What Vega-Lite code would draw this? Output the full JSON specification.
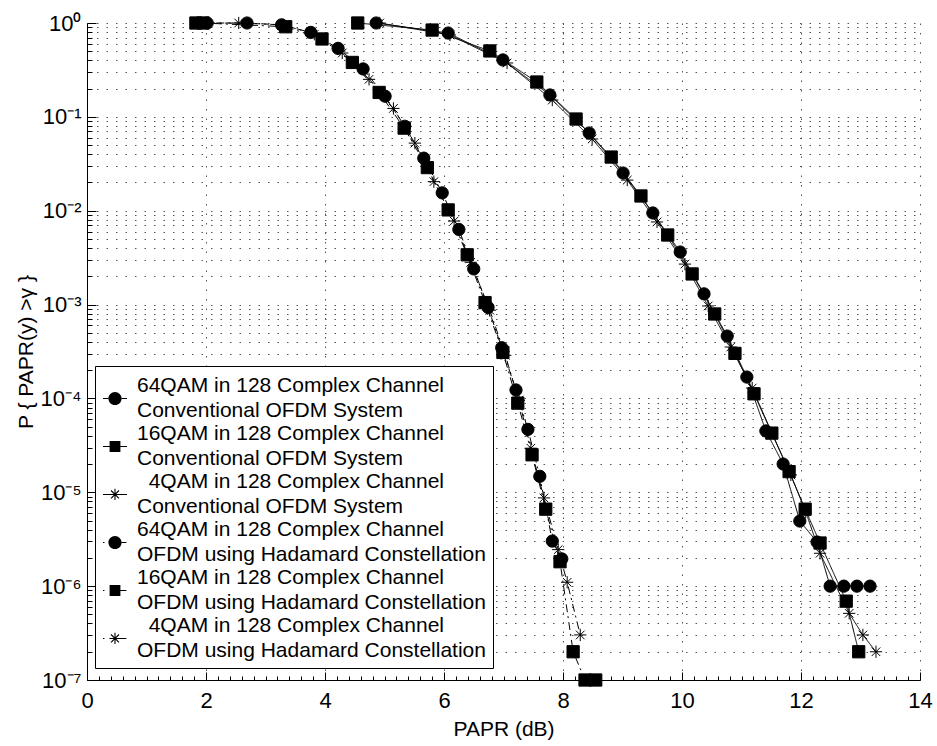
{
  "$schema": "https://vega.github.io/schema/vega-lite/v6.json",
  "width": 833,
  "height": 657,
  "autosize": "none",
  "padding": {"left": 87, "top": 23, "right": 17, "bottom": 66},
  "background": "white",
  "config": {
    "font": "Liberation Sans",
    "view": {"stroke": null},
    "style": {"guide-label": {"lineHeight": 25}},
    "axis": {
      "labelFont": "Liberation Sans", "titleFont": "Liberation Sans",
      "labelFontSize": 22, "titleFontSize": 21, "titleFontWeight": "normal",
      "labelColor": "black", "titleColor": "black",
      "domainColor": "black", "domainWidth": 1, "tickColor": "black", "tickWidth": 1,
      "gridColor": "#555", "gridWidth": 1, "gridDash": [1.5, 8],
      "labelOverlap": false, "labelFlush": false, "labelBound": false
    },
    "legend": {
      "labelFont": "Liberation Sans", "labelFontSize": 21, "labelColor": "black"
    }
  },
  "data": {"values": [
    {"mod":"64QAM","sys":"Conventional","x":4.86,"y":1},
    {"mod":"64QAM","sys":"Conventional","x":6.07,"y":0.782},
    {"mod":"64QAM","sys":"Conventional","x":6.99,"y":0.404},
    {"mod":"64QAM","sys":"Conventional","x":7.78,"y":0.171},
    {"mod":"64QAM","sys":"Conventional","x":8.44,"y":0.0673},
    {"mod":"64QAM","sys":"Conventional","x":9.01,"y":0.0252},
    {"mod":"64QAM","sys":"Conventional","x":9.51,"y":0.00946},
    {"mod":"64QAM","sys":"Conventional","x":9.97,"y":0.00363},
    {"mod":"64QAM","sys":"Conventional","x":10.37,"y":0.0013},
    {"mod":"64QAM","sys":"Conventional","x":10.76,"y":0.000462},
    {"mod":"64QAM","sys":"Conventional","x":11.09,"y":0.000169},
    {"mod":"64QAM","sys":"Conventional","x":11.41,"y":0.000045},
    {"mod":"64QAM","sys":"Conventional","x":11.70,"y":0.00002},
    {"mod":"64QAM","sys":"Conventional","x":11.98,"y":0.00000494},
    {"mod":"64QAM","sys":"Conventional","x":12.27,"y":0.00000295},
    {"mod":"64QAM","sys":"Conventional","x":12.49,"y":0.000001},
    {"mod":"64QAM","sys":"Conventional","x":12.72,"y":0.000001},
    {"mod":"64QAM","sys":"Conventional","x":12.94,"y":0.000001},
    {"mod":"64QAM","sys":"Conventional","x":13.16,"y":0.000001},
    {"mod":"16QAM","sys":"Conventional","x":4.55,"y":1},
    {"mod":"16QAM","sys":"Conventional","x":5.80,"y":0.841},
    {"mod":"16QAM","sys":"Conventional","x":6.77,"y":0.504},
    {"mod":"16QAM","sys":"Conventional","x":7.56,"y":0.235},
    {"mod":"16QAM","sys":"Conventional","x":8.22,"y":0.0948},
    {"mod":"16QAM","sys":"Conventional","x":8.81,"y":0.0373},
    {"mod":"16QAM","sys":"Conventional","x":9.31,"y":0.01436},
    {"mod":"16QAM","sys":"Conventional","x":9.76,"y":0.00551},
    {"mod":"16QAM","sys":"Conventional","x":10.17,"y":0.00212},
    {"mod":"16QAM","sys":"Conventional","x":10.55,"y":0.000794},
    {"mod":"16QAM","sys":"Conventional","x":10.89,"y":0.000302},
    {"mod":"16QAM","sys":"Conventional","x":11.21,"y":0.000112},
    {"mod":"16QAM","sys":"Conventional","x":11.51,"y":0.0000427},
    {"mod":"16QAM","sys":"Conventional","x":11.80,"y":0.0000166},
    {"mod":"16QAM","sys":"Conventional","x":12.07,"y":0.00000661},
    {"mod":"16QAM","sys":"Conventional","x":12.32,"y":0.00000288},
    {"mod":"16QAM","sys":"Conventional","x":12.76,"y":0.000000692},
    {"mod":"16QAM","sys":"Conventional","x":12.97,"y":0.0000002},
    {"mod":"4QAM","sys":"Conventional","x":4.92,"y":1},
    {"mod":"4QAM","sys":"Conventional","x":6.10,"y":0.745},
    {"mod":"4QAM","sys":"Conventional","x":7.06,"y":0.375},
    {"mod":"4QAM","sys":"Conventional","x":7.82,"y":0.151},
    {"mod":"4QAM","sys":"Conventional","x":8.49,"y":0.0581},
    {"mod":"4QAM","sys":"Conventional","x":9.08,"y":0.0212},
    {"mod":"4QAM","sys":"Conventional","x":9.58,"y":0.00759},
    {"mod":"4QAM","sys":"Conventional","x":10.05,"y":0.0027},
    {"mod":"4QAM","sys":"Conventional","x":10.44,"y":0.000966},
    {"mod":"4QAM","sys":"Conventional","x":10.82,"y":0.000353},
    {"mod":"4QAM","sys":"Conventional","x":11.18,"y":0.000129},
    {"mod":"4QAM","sys":"Conventional","x":11.51,"y":0.0000429},
    {"mod":"4QAM","sys":"Conventional","x":11.83,"y":0.0000153},
    {"mod":"4QAM","sys":"Conventional","x":12.08,"y":0.00000617},
    {"mod":"4QAM","sys":"Conventional","x":12.32,"y":0.00000224},
    {"mod":"4QAM","sys":"Conventional","x":12.81,"y":0.000000513},
    {"mod":"4QAM","sys":"Conventional","x":13.04,"y":0.000000302},
    {"mod":"4QAM","sys":"Conventional","x":13.26,"y":0.0000002},
    {"mod":"64QAM","sys":"Hadamard","x":2.02,"y":1},
    {"mod":"64QAM","sys":"Hadamard","x":2.69,"y":1},
    {"mod":"64QAM","sys":"Hadamard","x":3.27,"y":0.955},
    {"mod":"64QAM","sys":"Hadamard","x":3.76,"y":0.794},
    {"mod":"64QAM","sys":"Hadamard","x":4.22,"y":0.537},
    {"mod":"64QAM","sys":"Hadamard","x":4.64,"y":0.324},
    {"mod":"64QAM","sys":"Hadamard","x":5.01,"y":0.166},
    {"mod":"64QAM","sys":"Hadamard","x":5.34,"y":0.0794},
    {"mod":"64QAM","sys":"Hadamard","x":5.66,"y":0.0363},
    {"mod":"64QAM","sys":"Hadamard","x":5.97,"y":0.0155},
    {"mod":"64QAM","sys":"Hadamard","x":6.25,"y":0.00631},
    {"mod":"64QAM","sys":"Hadamard","x":6.50,"y":0.0024},
    {"mod":"64QAM","sys":"Hadamard","x":6.74,"y":0.000933},
    {"mod":"64QAM","sys":"Hadamard","x":6.97,"y":0.000347},
    {"mod":"64QAM","sys":"Hadamard","x":7.21,"y":0.000123},
    {"mod":"64QAM","sys":"Hadamard","x":7.41,"y":0.0000468},
    {"mod":"64QAM","sys":"Hadamard","x":7.61,"y":0.0000148},
    {"mod":"64QAM","sys":"Hadamard","x":7.82,"y":0.00000302},
    {"mod":"64QAM","sys":"Hadamard","x":7.98,"y":0.00000195},
    {"mod":"16QAM","sys":"Hadamard","x":1.83,"y":1},
    {"mod":"16QAM","sys":"Hadamard","x":1.95,"y":1},
    {"mod":"16QAM","sys":"Hadamard","x":3.34,"y":0.912},
    {"mod":"16QAM","sys":"Hadamard","x":3.95,"y":0.676},
    {"mod":"16QAM","sys":"Hadamard","x":4.46,"y":0.38},
    {"mod":"16QAM","sys":"Hadamard","x":4.91,"y":0.182},
    {"mod":"16QAM","sys":"Hadamard","x":5.33,"y":0.0759},
    {"mod":"16QAM","sys":"Hadamard","x":5.72,"y":0.0288},
    {"mod":"16QAM","sys":"Hadamard","x":6.07,"y":0.0102},
    {"mod":"16QAM","sys":"Hadamard","x":6.39,"y":0.00339},
    {"mod":"16QAM","sys":"Hadamard","x":6.69,"y":0.00105},
    {"mod":"16QAM","sys":"Hadamard","x":6.99,"y":0.000309},
    {"mod":"16QAM","sys":"Hadamard","x":7.24,"y":0.0000891},
    {"mod":"16QAM","sys":"Hadamard","x":7.48,"y":0.0000251},
    {"mod":"16QAM","sys":"Hadamard","x":7.71,"y":0.00000661},
    {"mod":"16QAM","sys":"Hadamard","x":7.95,"y":0.00000182},
    {"mod":"16QAM","sys":"Hadamard","x":8.17,"y":0.0000002},
    {"mod":"16QAM","sys":"Hadamard","x":8.37,"y":0.0000001},
    {"mod":"16QAM","sys":"Hadamard","x":8.55,"y":0.0000001},
    {"mod":"4QAM","sys":"Hadamard","x":1.87,"y":1},
    {"mod":"4QAM","sys":"Hadamard","x":2.55,"y":1},
    {"mod":"4QAM","sys":"Hadamard","x":3.30,"y":0.955},
    {"mod":"4QAM","sys":"Hadamard","x":3.82,"y":0.759},
    {"mod":"4QAM","sys":"Hadamard","x":4.29,"y":0.479},
    {"mod":"4QAM","sys":"Hadamard","x":4.74,"y":0.251},
    {"mod":"4QAM","sys":"Hadamard","x":5.15,"y":0.123},
    {"mod":"4QAM","sys":"Hadamard","x":5.51,"y":0.0525},
    {"mod":"4QAM","sys":"Hadamard","x":5.83,"y":0.0204},
    {"mod":"4QAM","sys":"Hadamard","x":6.17,"y":0.00776},
    {"mod":"4QAM","sys":"Hadamard","x":6.45,"y":0.00282},
    {"mod":"4QAM","sys":"Hadamard","x":6.77,"y":0.000871},
    {"mod":"4QAM","sys":"Hadamard","x":7.03,"y":0.000288},
    {"mod":"4QAM","sys":"Hadamard","x":7.26,"y":0.0000955},
    {"mod":"4QAM","sys":"Hadamard","x":7.46,"y":0.0000295},
    {"mod":"4QAM","sys":"Hadamard","x":7.68,"y":0.00000871},
    {"mod":"4QAM","sys":"Hadamard","x":7.92,"y":0.00000245},
    {"mod":"4QAM","sys":"Hadamard","x":8.07,"y":0.0000011},
    {"mod":"4QAM","sys":"Hadamard","x":8.29,"y":0.000000302}
  ]},
  "transform": [
    {"calculate": "datum.mod + ' in 128 Complex Channel|' + (datum.sys == 'Conventional' ? 'Conventional OFDM System' : 'OFDM using Hadamard Constellation')", "as": "series"}
  ],
  "encoding": {
    "x": {
      "field": "x", "type": "quantitative",
      "scale": {"domain": [0, 14], "nice": false, "zero": false},
      "axis": {
        "title": "PAPR (dB)",
        "values": [0,0.2,0.4,0.6,0.8,1,1.2,1.4,1.6,1.8,2,2.2,2.4,2.6,2.8,3,3.2,3.4,3.6,3.8,4,4.2,4.4,4.6,4.8,5,5.2,5.4,5.6,5.8,6,6.2,6.4,6.6,6.8,7,7.2,7.4,7.6,7.8,8,8.2,8.4,8.6,8.8,9,9.2,9.4,9.6,9.8,10,10.2,10.4,10.6,10.8,11,11.2,11.4,11.6,11.8,12,12.2,12.4,12.6,12.8,13,13.2,13.4,13.6,13.8,14],
        "labelExpr": "datum.value % 2 == 0 ? format(datum.value, 'd') : ''",
        "tickSize": {"condition": {"test": "datum.value % 2 == 0", "value": -8}, "value": -4},
        "gridOpacity": {"condition": {"test": "datum.value % 2 == 0 && datum.value > 0", "value": 1}, "value": 0},
        "labelPadding": 18,
        "titlePadding": 3
      }
    },
    "y": {
      "field": "y", "type": "quantitative",
      "scale": {"type": "log", "domain": [0.0000001, 1], "nice": false},
      "axis": {
        "title": "P { PAPR(y) >γ }",
        "values": [0.0000001,0.0000002,0.0000003,0.0000004,0.0000005,0.0000006,0.0000007,0.0000008,0.0000009,0.000001,0.000002,0.000003,0.000004,0.000005,0.000006,0.000007,0.000008,0.000009,0.00001,0.00002,0.00003,0.00004,0.00005,0.00006,0.00007,0.00008,0.00009,0.0001,0.0002,0.0003,0.0004,0.0005,0.0006,0.0007,0.0008,0.0009,0.001,0.002,0.003,0.004,0.005,0.006,0.007,0.008,0.009,0.01,0.02,0.03,0.04,0.05,0.06,0.07,0.08,0.09,0.1,0.2,0.3,0.4,0.5,0.6,0.7,0.8,0.9,1],
        "labelExpr": "abs(log(datum.value)/LN10 - round(log(datum.value)/LN10)) < 0.000001 ? '10' + (round(log(datum.value)/LN10) < 0 ? '⁻' : '') + ['⁰','¹','²','³','⁴','⁵','⁶','⁷'][abs(round(log(datum.value)/LN10))] : ''",
        "tickSize": {"condition": {"test": "abs(log(datum.value)/LN10 - round(log(datum.value)/LN10)) < 0.000001", "value": -9}, "value": -5},
        "labelPadding": 15,
        "titlePadding": 4
      }
    }
  },
  "layer": [
    {
      "mark": {"type": "line", "color": "black", "strokeWidth": 1},
      "encoding": {
        "detail": {"field": "mod"},
        "strokeDash": {
          "field": "sys", "type": "nominal",
          "scale": {"domain": ["Conventional", "Hadamard"], "range": [[1, 0], [8, 4, 2, 4]]},
          "legend": null
        }
      }
    },
    {
      "mark": {"type": "point", "filled": true, "color": "black", "stroke": "black", "strokeWidth": 1, "size": 150, "opacity": 1},
      "encoding": {
        "shape": {
          "field": "mod", "type": "nominal",
          "scale": {"domain": ["64QAM", "16QAM", "4QAM"], "range": ["circle", "square", "M-1,0L1,0M0,-1L0,1M-0.7,-0.7L0.7,0.7M-0.7,0.7L0.7,-0.7"]},
          "legend": null
        }
      }
    },
    {
      "mark": {"type": "point", "filled": true, "color": "black", "size": 576, "opacity": 0},
      "encoding": {
        "shape": {
          "field": "series", "type": "nominal",
          "scale": {
            "domain": [
              "64QAM in 128 Complex Channel|Conventional OFDM System",
              "16QAM in 128 Complex Channel|Conventional OFDM System",
              "4QAM in 128 Complex Channel|Conventional OFDM System",
              "64QAM in 128 Complex Channel|OFDM using Hadamard Constellation",
              "16QAM in 128 Complex Channel|OFDM using Hadamard Constellation",
              "4QAM in 128 Complex Channel|OFDM using Hadamard Constellation"
            ],
            "range": [
              "M-1,0.995L-0.56,0.995L-0.56,1.085L-1,1.085Z M0.56,0.995L1,0.995L1,1.085L0.56,1.085Z M-0.55,1.04A0.55,0.55 0 1,0 0.55,1.04A0.55,0.55 0 1,0 -0.55,1.04Z",
              "M-1,0.995L-0.45,0.995L-0.45,1.085L-1,1.085Z M0.45,0.995L1,0.995L1,1.085L0.45,1.085Z M-0.45,0.59L0.45,0.59L0.45,1.49L-0.45,1.49Z",
              "M-1,0.995L1,0.995L1,1.085L-1,1.085Z M0.045,0.57L0.045,1.51L-0.045,1.51L-0.045,0.57Z M-0.300,0.676L0.364,1.340L0.300,1.404L-0.364,0.740Z M-0.364,1.340L0.300,0.676L0.364,0.740L-0.300,1.404Z",
              "M-1,0.995L-0.88,0.995L-0.88,1.085L-1,1.085Z M0.56,0.995L0.95,0.995L0.95,1.085L0.56,1.085Z M-0.55,1.04A0.55,0.55 0 1,0 0.55,1.04A0.55,0.55 0 1,0 -0.55,1.04Z",
              "M-1,0.995L-0.88,0.995L-0.88,1.085L-1,1.085Z M0.45,0.995L0.95,0.995L0.95,1.085L0.45,1.085Z M-0.45,0.59L0.45,0.59L0.45,1.49L-0.45,1.49Z",
              "M-1,0.995L-0.88,0.995L-0.88,1.085L-1,1.085Z M-0.47,0.995L0.95,0.995L0.95,1.085L-0.47,1.085Z M0.045,0.57L0.045,1.51L-0.045,1.51L-0.045,0.57Z M-0.300,0.676L0.364,1.340L0.300,1.404L-0.364,0.740Z M-0.364,1.340L0.300,0.676L0.364,0.740L-0.300,1.404Z"
            ]
          },
          "legend": {
            "title": null,
            "orient": "none",
            "legendX": 8,
            "legendY": 343,
            "padding": 7,
            "rowPadding": 0,
            "labelOffset": 9,
            "labelLimit": 600,
            "symbolSize": 576,
            "symbolOpacity": 1,
            "symbolFillColor": "black",
            "strokeColor": "black",
            "fillColor": "white",
            "cornerRadius": 0,
            "labelExpr": "split((indexof(datum.label, '4QAM') == 0 ? '\u200b\u00a0\u00a0' : '') + datum.label, '|')"
          }
        }
      }
    }
  ],
  "resolve": {"scale": {"shape": "independent"}}
}
